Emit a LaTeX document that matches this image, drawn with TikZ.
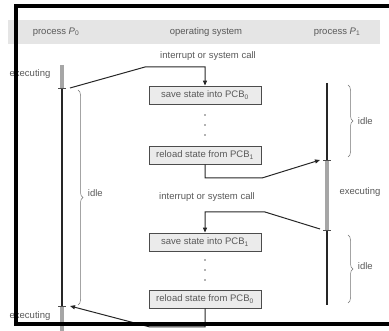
\documentclass[tikz,border=0pt]{standalone}
\usepackage{fontspec}
\setmainfont{Liberation Sans}
\usetikzlibrary{arrows.meta,decorations.pathreplacing}
\begin{document}
\begin{tikzpicture}[x=1pt,y=1pt,yscale=-1,
  lbl/.style={text=black!65,font=\fontsize{9.5}{11}\selectfont,inner sep=0.75pt},
  statebox/.style={lbl,draw=black!70,fill=black!8,line width=0.8pt,minimum width=112pt,minimum height=18pt},
  switch/.style={draw=black!85,line width=1pt,-{Triangle[length=5pt,width=4pt]}},
  runline/.style={draw=black!35,line width=3.5pt},
  waitline/.style={draw=black!85,line width=2pt},
  idlebrace/.style={draw=black!55,line width=0.5pt,decorate,decoration={brace,amplitude=5pt}}]
\useasboundingbox (0,0) rectangle (389,331);

%Header band
\fill[black!10] (8,20) rectangle (380,44);
% Text Node
\node[lbl] (headp0) at (56,32) {process \textit{P}\textsubscript{0}};
\node[lbl] (heados) at (206,32) {operating system};
\node[lbl] (headp1) at (337,32) {process \textit{P}\textsubscript{1}};

%Time lines of the two processes
\coordinate (p0top) at (62,65);
\coordinate (p0stop) at (62,88);
\coordinate (p0go) at (62,306);
\coordinate (p0end) at (62,331);
\draw[runline] (p0top) -- (p0stop);
\draw[waitline] (p0stop) -- (p0go);
\draw[runline] (p0go) -- (p0end);
\coordinate (p1top) at (327,83);
\coordinate (p1go) at (327,160);
\coordinate (p1stop) at (327,230);
\coordinate (p1end) at (327,305);
\draw[waitline] (p1top) -- (p1go);
\draw[runline] (p1go) -- (p1stop);
\draw[waitline] (p1stop) -- (p1end);
\foreach \c in {p0stop,p0go,p1go,p1stop}
  \draw[black!70,line width=0.6pt] ([xshift=-4pt]\c) -- ([xshift=4pt]\c);

%Kernel steps
\node[statebox] (save0) at (205,95) {save state into PCB\textsubscript{0}};
\node[statebox] (reload1) at (205,155) {reload state from PCB\textsubscript{1}};
\node[statebox] (save1) at (205,242) {save state into PCB\textsubscript{1}};
\node[statebox] (reload0) at (205,299) {reload state from PCB\textsubscript{0}};
\foreach \y in {115,125,135,260,270,280}
  \fill[black!60] (205,\y) circle (0.8pt);

% Text Node
\node[lbl] (irq0) at (208,56) {interrupt or system call};
\node[lbl] (irq1) at (207,197) {interrupt or system call};

%Switching arrows
\coordinate (p0out) at (70,88);
\coordinate (p1in) at (320,160);
\coordinate (p1out) at (320,229);
\coordinate (p0in) at (70,306);
\draw[switch] (p0out) -- (145,67) -| (save0.north);
\draw[switch] (reload1.south) |- (262,178) -- (p1in);
\draw[switch] (p1out) -- (265,212) -| (save1.north);
\draw[switch] (reload0.south) |- (150,327) -- (p0in);

%Braces and state labels
\draw[idlebrace] (78,90) -- (78,305);
\node[lbl,anchor=west] (idle0) at (87,193) {idle};
\draw[idlebrace] (348,85) -- (348,157);
\node[lbl,anchor=west] (idle1) at (357,121) {idle};
\draw[idlebrace] (348,235) -- (348,303);
\node[lbl,anchor=west] (idle2) at (357,266) {idle};
\node[lbl] (exec0) at (30,74) {executing};
\node[lbl] (exec1) at (360,192) {executing};
\node[lbl] (exec2) at (30,316) {executing};

%Frame
\draw[line width=3.5pt] (389,6) -- (16,6) -- (16,324) -- (389,324);
\end{tikzpicture}
\end{document}
